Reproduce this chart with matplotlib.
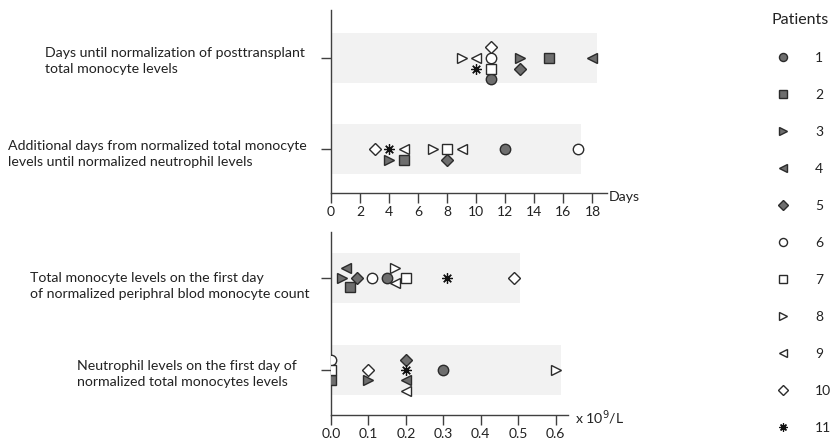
import numpy as np
import matplotlib.pyplot as plt

plt.rcParams['font.family'] = ['Lato', 'DejaVu Sans']

### patient data
patients = [1, 2, 3, 4, 5, 6, 7, 8, 9, 10, 11]
star = (8, 2, 0)
markers = ['o', 's', '>', '<', 'D', 'o', 's', '>', '<', 'D', star]
filled = [True, True, True, True, True, False, False, False, False, False, True]

# days (top panel)
days_to_normal = [11, 15, 13, 18, 13, 11, 11, 9, 10, 11, 10]
days_to_normal_slot = [2, 0, 0, 0, 1, 0, 1, 0, 0, -1, 1]
extra_days = [12, 5, 4, 9, 8, 17, 8, 7, 5, 3, 4]
extra_days_slot = [0, 1, 1, 0, 1, 0, 0, 0, 0, 0, 0]

# cell counts x 10^9/L (bottom panel)
mono_first = [0.15, 0.05, 0.03, 0.04, 0.07, 0.11, 0.20, 0.17, 0.17, 0.49, 0.31]
mono_slot = [0, 0.85, 0, -1, 0, 0, 0, -1, 0.5, 0, 0]
neut_first = [0.30, 0.00, 0.10, 0.20, 0.20, 0.00, 0.00, 0.60, 0.20, 0.10, 0.20]
neut_slot = [0, 1, 1, 1, -1, -1, 0, 0, 2, 0, 0]

top_labels = ['Days until normalization of posttransplant\ntotal monocyte levels',
              'Additional days from normalized total monocyte\nlevels until normalized neutrophil levels']
bottom_labels = ['Total monocyte levels on the first day\nof normalized periphral blod monocyte count',
                 'Neutrophil levels on the first day of\nnormalized total monocytes levels']

FILL = '#6e6e6e'
EDGE = '#2b2b2b'
BAND = '#f2f2f2'
SPINE = '#404040'
TEXT = '#222222'


def marker_style(i, size=7.5):
    m = markers[i]
    ms = size * 0.8 if m == 'D' else size
    if m == star:
        return dict(marker=m, ms=ms, mfc='#111111', mec='#111111', mew=0.9)
    face = FILL if filled[i] else 'white'
    return dict(marker=m, ms=ms, mfc=face, mec=EDGE, mew=1.0)


def draw_row(ax, y, values, slots, step, pad, open_override=()):
    ax.barh(y, max(values) + pad, height=0.55, color=BAND, zorder=1)
    for i in range(len(patients)):
        st = marker_style(i)
        if i in open_override:
            st['mfc'] = 'white'
        ax.plot(values[i], y - slots[i] * step, ls='none', zorder=3, **st)


def style_axes(ax):
    for s in ['top', 'right']:
        ax.spines[s].set_visible(False)
    for s in ['left', 'bottom']:
        ax.spines[s].set_color(SPINE)
        ax.spines[s].set_linewidth(1.0)
    ax.tick_params(direction='out', length=7, width=1.0, color=SPINE,
                   labelsize=10, pad=2, labelcolor=TEXT)
    ax.set_yticks([1, 0])
    ax.set_yticklabels([])


fig = plt.figure(figsize=(8.32, 4.46), dpi=100)

ax1 = fig.add_axes([331 / 832, 1 - 193 / 446, 276 / 832, 183 / 446])
draw_row(ax1, 1, days_to_normal, days_to_normal_slot, 0.117, 0.3)
draw_row(ax1, 0, extra_days, extra_days_slot, 0.117, 0.2, open_override=(3,))
ax1.set_xlim(0, 19)
ax1.set_ylim(-0.484, 1.527)
ax1.set_xticks(np.arange(0, 19, 2))
style_axes(ax1)

ax2 = fig.add_axes([331 / 832, 1 - 415 / 446, 237 / 832, 183 / 446])
draw_row(ax2, 1, mono_first, mono_slot, 0.114, 0.015)
draw_row(ax2, 0, neut_first, neut_slot, 0.114, 0.013)
ax2.set_xlim(0, 0.633)
ax2.set_ylim(-0.489, 1.5)
ax2.set_xticks(np.arange(0, 0.61, 0.1))
ax2.set_xticklabels([f'{v:.1f}' for v in np.arange(0, 0.61, 0.1)])
style_axes(ax2)

# overlay in pixel coordinates for labels and legend
ov = fig.add_axes([0, 0, 1, 1], zorder=5)
ov.set_xlim(0, 832)
ov.set_ylim(446, 0)
ov.axis('off')

label_pos = [(45, 61), (8, 154), (30, 286), (77, 374)]
for (x, y), txt in zip(label_pos, top_labels + bottom_labels):
    ov.text(x, y, txt, ha='left', va='center', fontsize=10.2,
            linespacing=1.45, color=TEXT)

ov.text(609, 197, 'Days', ha='left', va='center', fontsize=10.2, color=TEXT)
ov.text(575, 418, 'x 10$^{9}$/L', ha='left', va='center', fontsize=10.2, color=TEXT)

# patient legend
ov.text(829, 20, 'Patients', ha='right', va='center', fontsize=11.5, color=TEXT)
for i, p in enumerate(patients):
    y = 57 + 37 * i
    ov.plot(783, y, ls='none', **marker_style(i, size=5.8))
    ov.text(815, y + 1, str(p), ha='left', va='center', fontsize=10, color=TEXT)

fig.savefig('out.png', dpi=100)
